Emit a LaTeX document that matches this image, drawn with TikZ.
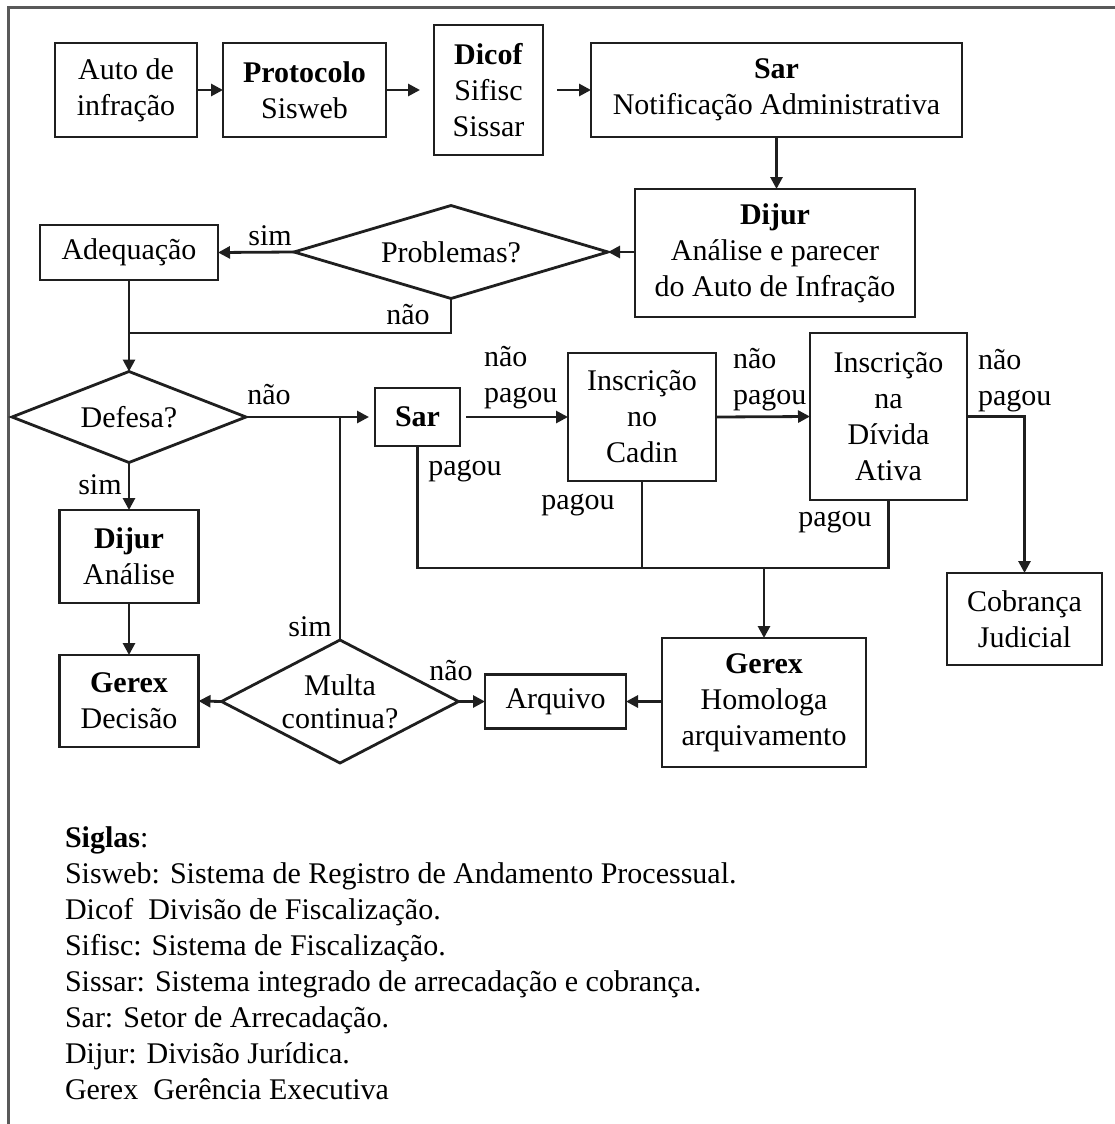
\documentclass[tikz,border=0pt]{standalone}
\usepackage{fontspec}
\setmainfont{Liberation Serif}
\usetikzlibrary{arrows.meta,shapes.geometric}
\begin{document}
\begin{tikzpicture}[x=1pt,y=-1pt,
  every node/.style={font=\fontsize{30}{36}\selectfont, inner sep=0pt, outer sep=0pt},
  box/.style={draw=black!88, line width=2.8pt, align=center},
  dec/.style={draw=black!88, line width=2.8pt, shape=diamond, align=center},
  lbl/.style={align=left},
  conn/.style={line width=2.8pt, draw=black!88},
  arr/.style={conn, -{Triangle[length=12pt,width=12pt]}}
]
\useasboundingbox (0,0) rectangle (1115,1124);
\draw[line width=3pt, draw=black!65] (1115,8) -- (8,8) -- (8,1124);

% top row
\node[box, minimum width=142pt, minimum height=94pt] (auto) at (126,90) {Auto de\\infração};
\node[box, minimum width=163pt, minimum height=94pt] (proto) at (304.5,90) {\textbf{Protocolo}\\Sisweb};
\node[box, minimum width=109pt, minimum height=130pt] (dicof) at (488.5,90) {\textbf{Dicof}\\Sifisc\\Sissar};
\node[box, minimum width=371pt, minimum height=94pt] (sar1) at (776.5,90) {\textbf{Sar}\\Notificação Administrativa};

% second row
\node[box, minimum width=280pt, minimum height=128pt] (dijur1) at (775,253) {\textbf{Dijur}\\Análise e parecer\\do Auto de Infração};
\node[dec, aspect=3.38, minimum width=314pt, minimum height=93pt] (prob) at (451,252) {Problemas?};
\node[box, minimum width=178pt, minimum height=55pt] (adeq) at (129,252.5) {Adequação};

% third row
\node[dec, aspect=2.57, minimum width=234pt, minimum height=91pt] (defesa) at (129,417) {Defesa?};
\node[box, minimum width=85pt, minimum height=58pt] (sar2) at (417.5,417) {\textbf{Sar}};
\node[box, minimum width=148pt, minimum height=128pt] (cadin) at (642,417) {Inscrição\\no\\Cadin};
\node[box, minimum width=157pt, minimum height=167pt] (divida) at (888.5,416.5) {Inscrição\\na\\Dívida\\Ativa};
\node[box, minimum width=155pt, minimum height=92pt] (cobr) at (1024.5,619) {Cobrança\\Judicial};

% lower rows
\node[box, minimum width=139pt, minimum height=93pt] (dijur2) at (129,556.5) {\textbf{Dijur}\\Análise};
\node[box, minimum width=139pt, minimum height=92pt] (gerex1) at (129,701) {\textbf{Gerex}\\Decisão};
\node[dec, aspect=1.93, minimum width=237pt, minimum height=123pt, font=\fontsize{30}{33}\selectfont] (multa) at (340,701.5) {Multa\\continua?};
\node[box, minimum width=141pt, minimum height=54pt] (arq) at (555.5,701.5) {Arquivo};
\node[box, minimum width=204pt, minimum height=129pt] (gerex2) at (764,702.5) {\textbf{Gerex}\\Homologa\\arquivamento};

% connectors
\draw[arr] (auto.east) -- (proto.west);
\draw[arr, shorten >=14pt] (proto.east) -- (dicof.west);
\draw[arr, shorten <=14pt] (dicof.east) -- (sar1.west);
\draw[arr] (sar1.south) -- (sar1.south |- dijur1.north);
\draw[arr] (dijur1.west |- prob.east) -- (prob.east);
\draw[arr] (prob.west) -- (adeq.east);
\coordinate (j1) at (129,333);
\draw[conn] (prob.south) |- (j1);
\draw[arr] (adeq.south) -- (defesa.north);
\draw[arr, shorten >=6pt] (defesa.east) -- (sar2.west);
\draw[conn] (multa.north) -- (multa.north |- defesa.east);
\draw[arr, shorten <=6pt] (sar2.east) -- (cadin.west);
\draw[arr] (cadin.east) -- (divida.west);
\draw[arr] (divida.east) -| (cobr.north);
\coordinate (bus) at (764,568);
\draw[conn] (sar2.south) |- (divida.south |- bus) -- (divida.south);
\draw[conn] (cadin.south) -- (cadin.south |- bus);
\draw[arr] (bus) -- (gerex2.north);
\draw[arr] (defesa.south) -- (dijur2.north);
\draw[arr] (dijur2.south) -- (gerex1.north);
\draw[arr] (multa.west) -- (gerex1.east);
\draw[arr] (multa.east) -- (arq.west);
\draw[arr] (gerex2.west |- arq.east) -- (arq.east);

% labels
\node (lsim1) at (270,236) {sim};
\node (lnao1) at (408,315) {não};
\node (lnao2) at (269,395) {não};
\node (lsim2) at (100,485) {sim};
\node (lsim3) at (310,627) {sim};
\node (lnao3) at (451,671) {não};
\node[lbl, anchor=west] (lnp1) at (484,378) {não\\pagou};
\node[lbl, anchor=west] (lnp2) at (733,380) {não\\pagou};
\node[lbl, anchor=west] (lnp3) at (978,381) {não\\pagou};
\node (lp1) at (465,471) {pagou};
\node (lp2) at (578,505) {pagou};
\node (lp3) at (835,522) {pagou};

% legend
\node[align=left, anchor=north west] (legend) at (65,827) {\textbf{Siglas}:\\
Sisweb: Sistema de Registro de Andamento Processual.\\
Dicof\ \ Divisão de Fiscalização.\\
Sifisc: Sistema de Fiscalização.\\
Sissar: Sistema integrado de arrecadação e cobrança.\\
Sar: Setor de Arrecadação.\\
Dijur: Divisão Jurídica.\\
Gerex\ \ Gerência Executiva};
\end{tikzpicture}
\end{document}
